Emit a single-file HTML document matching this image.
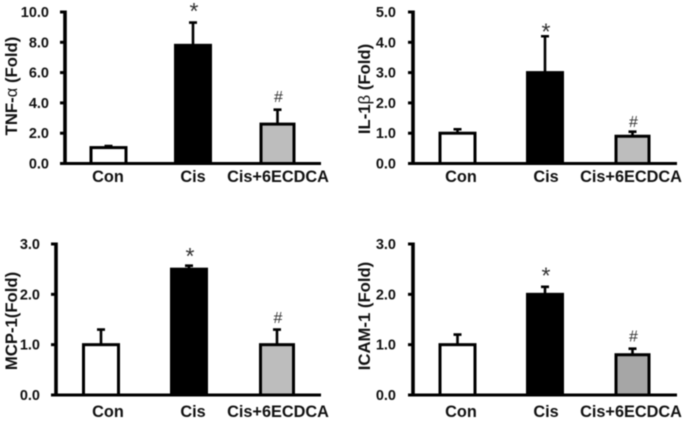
<!DOCTYPE html>
<html>
<head>
<meta charset="utf-8">
<style>
html,body{margin:0;padding:0;background:#fff;width:686px;height:421px;overflow:hidden}
svg{display:block;filter:blur(0.4px)}
text{font-family:"Liberation Sans",sans-serif;fill:#111}
.tick{font-size:14.5px;font-weight:bold;text-anchor:end}
.cat{font-size:16.3px;font-weight:bold;text-anchor:middle}
.ttl{font-size:16.7px;font-weight:bold;text-anchor:middle}
.mark{text-anchor:middle;fill:#333}
</style>
</head>
<body>
<svg id="chart" width="686" height="421" viewBox="0 0 686 421" xmlns="http://www.w3.org/2000/svg"></svg>
<script>
const categories = ["Con", "Cis", "Cis+6ECDCA"];

const tnfValues = [1.05, 7.8, 2.6];
const tnfErrors = [0.1, 1.5, 0.95];
const tnfTicks = ["0.0", "2.0", "4.0", "6.0", "8.0", "10.0"];
const tnfMarkers = [null, 10.25, 4.45];

const ilValues = [1.0, 3.0, 0.9];
const ilErrors = [0.13, 1.2, 0.15];
const ilTicks = ["0.0", "1.0", "2.0", "3.0", "4.0", "5.0"];
const ilMarkers = [null, 4.45, 1.4];

const mcpValues = [1.0, 2.5, 1.0];
const mcpErrors = [0.3, 0.07, 0.3];
const mcpTicks = ["0.0", "1.0", "2.0", "3.0"];
const mcpMarkers = [null, 2.82, 1.55];

const icamValues = [1.0, 2.0, 0.8];
const icamErrors = [0.2, 0.15, 0.12];
const icamTicks = ["0.0", "1.0", "2.0", "3.0"];
const icamMarkers = [null, 2.43, 1.18];

const barFills = ["#ffffff", "#000000", "#bdbdbd"];
const markerGlyphs = ["", "*", "#"];

const panels = [
  {id:"tnf", title:"TNF-", greek:"α", rest:" (Fold)", values:tnfValues, errors:tnfErrors, ticks:tnfTicks, markers:tnfMarkers,
   axisX:65, right:321, top:12, bottom:163.5, tickEnd:49, titleX:17, titleY:86, c0:108.5, step:84.5, labels:[108,193,278], labelY:182, fills:barFills},
  {id:"il", title:"IL-1", greek:"β", rest:" (Fold)", values:ilValues, errors:ilErrors, ticks:ilTicks, markers:ilMarkers,
   axisX:413, right:677, top:12, bottom:163.5, tickEnd:396, titleX:370, titleY:89, c0:457.5, step:87.5, labels:[461,546,631], labelY:182, fills:barFills},
  {id:"mcp", title:"MCP-1(Fold)", greek:"", rest:"", values:mcpValues, errors:mcpErrors, ticks:mcpTicks, markers:mcpMarkers,
   axisX:56, right:321, top:244, bottom:395, tickEnd:40, titleX:17, titleY:321, c0:101, step:88, labels:[108,193,278], labelY:417, fills:barFills},
  {id:"icam", title:"ICAM-1 (Fold)", greek:"", rest:"", values:icamValues, errors:icamErrors, ticks:icamTicks, markers:icamMarkers,
   axisX:413, right:677, top:244, bottom:395, tickEnd:396, titleX:370, titleY:316, c0:457.5, step:87.5, labels:[461,546,631], labelY:417, fills:["#ffffff","#000000","#a6a6a6"]}
];

const NS = "http://www.w3.org/2000/svg";
const svg = document.getElementById("chart");

function make(parent, tag, attrs, text) {
  const el = document.createElementNS(NS, tag);
  for (const k in attrs) el.setAttribute(k, attrs[k]);
  if (text !== undefined) el.textContent = text;
  parent.appendChild(el);
  return el;
}

panels.forEach(function (p) {
  const maxV = parseFloat(p.ticks[p.ticks.length - 1]);
  const yScale = function (v) { return p.bottom - (v / maxV) * (p.bottom - p.top); };
  const xCenter = function (i) { return p.c0 + i * p.step; };
  const barW = function (i) { return i === 2 ? 33 : 35; };

  const g = make(svg, "g", {});
  
  

  // y axis title
  const title = make(g, "text", {class:"ttl", transform:"translate(" + p.titleX + "," + p.titleY + ") rotate(-90)"});
  
  
  make(title, "tspan", {}, p.title);
  if (p.greek) {
    make(title, "tspan", {"font-weight":"normal"}, p.greek);
    make(title, "tspan", {}, p.rest);
  }

  // error bars behind bars
  p.values.forEach(function (v, i) {
    const cx = xCenter(i);
    const top = yScale(v + p.errors[i]);
    const err = make(g, "path", {d:"M" + cx + " " + yScale(v) + "V" + top + "M" + (cx - 4) + " " + top + "H" + (cx + 4), stroke:"#000", "stroke-width":2.6, fill:"none"});
    
    
  });

  // bars
  p.values.forEach(function (v, i) {
    const y = yScale(v);
    const bar = make(g, "rect", {x:xCenter(i) - barW(i) / 2, y:y, width:barW(i), height:p.bottom - y, fill:p.fills[i], stroke:"#000", "stroke-width":3});
    
    
  });

  // axes
  const yAxis = make(g, "line", {x1:p.axisX, x2:p.axisX, y1:p.top - 1.5, y2:p.bottom + 1.5, stroke:"#000", "stroke-width":3.6});
  
  
  const xAxis = make(g, "line", {x1:p.axisX - 5, x2:p.right, y1:p.bottom, y2:p.bottom, stroke:"#000", "stroke-width":3});
  
  

  // ticks and tick labels
  p.ticks.forEach(function (t) {
    const y = yScale(parseFloat(t));
    const tk = make(g, "line", {x1:p.axisX - 5, x2:p.axisX, y1:y, y2:y, stroke:"#000", "stroke-width":3});
    
    
    const lb = make(g, "text", {class:"tick", x:p.tickEnd, y:y + 5}, t);
    
    
  });

  // category labels
  categories.forEach(function (c, i) {
    const lb = make(g, "text", {class:"cat", x:p.labels[i], y:p.labelY}, c);
    
    
  });

  // significance markers
  p.markers.forEach(function (m, i) {
    if (m === null) return;
    const isStar = markerGlyphs[i] === "*";
    const mk = make(g, "text", {class:"mark", x:xCenter(i) + 1, y:yScale(m) + (isStar ? 11 : 6), style:isStar ? "font-size:23px" : "font-size:16px"}, markerGlyphs[i]);
    
    
  });
});
</script>
</body>
</html>
